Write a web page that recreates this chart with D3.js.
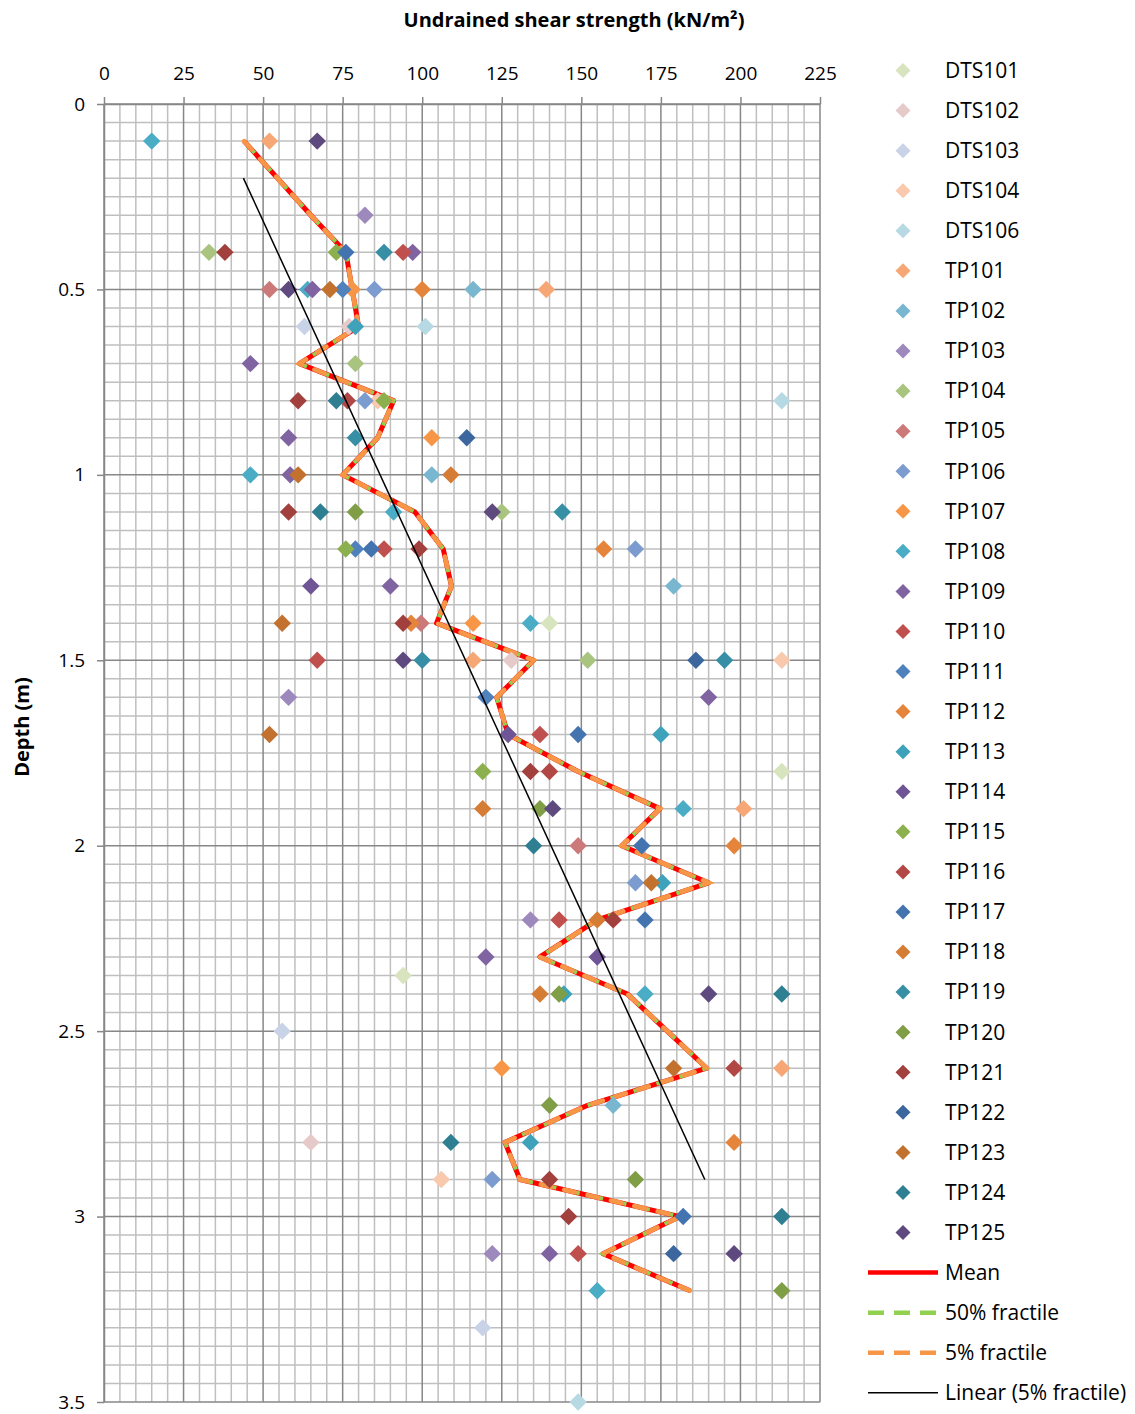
<!DOCTYPE html>
<html>
<head>
<meta charset="utf-8">
<script src="https://cdn.jsdelivr.net/npm/d3@7"></script>
<style>
body{margin:0;background:#fff;}
text{font-family:"Open Sans",Lato,sans-serif;fill:#000;}
</style>
</head>
<body>
<svg id="chart" width="1135" height="1414"></svg>
<script>
// series in legend order
var seriesNames = ["DTS101","DTS102","DTS103","DTS104","DTS106",
    "TP101","TP102","TP103","TP104","TP105","TP106","TP107","TP108","TP109","TP110",
    "TP111","TP112","TP113","TP114","TP115","TP116","TP117","TP118","TP119","TP120",
    "TP121","TP122","TP123","TP124","TP125"];

var seriesColors = ["#d7e4bd","#e6c9c9","#c9d3e8","#f9c9ad","#b7d9e3",
    "#f7a675","#78b7cf","#9d89bc","#a8c47f","#cc7a79","#7c9ccf","#f79646","#4bacc6","#8064a2","#c0504d",
    "#4f81bd","#e5843b","#3ea2bb","#6f5596","#8db04e","#b24845","#4474b0","#d57c35","#368fa5","#7f9e45",
    "#a2403e","#3b679e","#c2712f","#2f7f93","#5e4a7e"];

// test results: [series, depth (m), undrained shear strength (kN/m2)]
var obs = [
    ["DTS101",1.4,140],["DTS101",1.8,213],["DTS101",2.35,94],
    ["DTS102",0.6,77],["DTS102",1.5,128],["DTS102",2.8,65],
    ["DTS103",0.6,63],["DTS103",2.5,56],["DTS103",3.3,119],
    ["DTS104",0.8,86],["DTS104",1.5,213],["DTS104",2.9,106],
    ["DTS106",0.6,101],["DTS106",0.8,213],["DTS106",3.5,149],
    ["TP101",0.1,52],["TP101",0.5,139],["TP101",1.5,116],["TP101",1.9,201],["TP101",2.6,213],
    ["TP102",0.5,116],["TP102",1.0,103],["TP102",1.3,179],["TP102",2.7,160],
    ["TP103",0.3,82],["TP103",1.6,58],["TP103",2.2,134],["TP103",3.1,122],
    ["TP104",0.4,33],["TP104",0.7,79],["TP104",1.1,125],["TP104",1.5,152],
    ["TP105",0.5,52],["TP105",1.4,99.6],["TP105",2.0,149],
    ["TP106",0.5,85],["TP106",0.8,82],["TP106",1.2,167],["TP106",2.1,167],["TP106",2.9,122],
    ["TP107",0.5,78],["TP107",0.9,103],["TP107",1.4,116],["TP107",2.6,125],
    ["TP108",0.1,15],["TP108",0.5,64],["TP108",1.0,46],["TP108",1.1,91],["TP108",1.4,134],["TP108",1.9,182],["TP108",2.4,170],["TP108",3.2,155],
    ["TP109",0.4,97],["TP109",0.5,65.5],["TP109",0.7,46],["TP109",0.9,58],["TP109",1.0,58.5],["TP109",1.3,90],["TP109",1.6,190],["TP109",2.3,120],["TP109",3.1,140],
    ["TP110",0.4,94],["TP110",1.2,88],["TP110",1.5,67],["TP110",1.7,137],["TP110",2.2,143],["TP110",3.1,149],
    ["TP111",0.5,75],["TP111",1.2,79],["TP111",1.6,120],
    ["TP112",0.5,100],["TP112",1.2,157],["TP112",1.4,96.5],["TP112",2.0,198],["TP112",2.8,198],
    ["TP113",0.6,79],["TP113",1.7,175],["TP113",2.1,175.5],["TP113",2.4,144.5],["TP113",2.8,134],
    ["TP114",1.3,65],["TP114",1.7,127],["TP114",2.3,155],
    ["TP115",0.4,73],["TP115",0.8,88],["TP115",1.2,76],["TP115",1.8,119],
    ["TP116",0.8,76.5],["TP116",1.8,140],["TP116",2.6,198],
    ["TP117",0.4,76],["TP117",1.2,84],["TP117",1.7,149],["TP117",2.0,169],["TP117",2.2,170],["TP117",3.0,182],
    ["TP118",1.0,109],["TP118",1.9,119],["TP118",2.2,155],["TP118",2.4,137],
    ["TP119",0.4,88],["TP119",0.9,79],["TP119",1.1,144],["TP119",1.5,100],["TP119",1.5,195],
    ["TP120",1.1,79],["TP120",1.9,137],["TP120",2.4,143],["TP120",2.7,140],["TP120",2.9,167],["TP120",3.2,213],
    ["TP121",0.4,38],["TP121",0.8,61],["TP121",1.1,58],["TP121",1.2,99],["TP121",1.4,94],["TP121",1.8,134],["TP121",2.2,160],["TP121",2.9,140],["TP121",3.0,146],
    ["TP122",0.9,114],["TP122",1.5,186],["TP122",3.1,179],
    ["TP123",0.5,71],["TP123",1.0,61],["TP123",1.4,56],["TP123",1.7,52],["TP123",2.1,172],["TP123",2.6,179],
    ["TP124",0.8,73],["TP124",1.1,68],["TP124",2.0,135],["TP124",2.4,213],["TP124",2.8,109],["TP124",3.0,213],
    ["TP125",0.1,67],["TP125",0.5,58],["TP125",1.1,122],["TP125",1.5,94],["TP125",1.9,141],["TP125",2.4,190],["TP125",3.1,198]
];

// mean profile, the 50% and 5% fractile sit on top of it
var meanDepth = [0.1,0.2,0.3,0.4,0.5,0.6,0.7,0.8,0.9,1.0,1.1,1.2,1.3,1.4,1.5,1.6,
                 1.7,1.8,1.9,2.0,2.1,2.2,2.3,2.4,2.5,2.6,2.7,2.8,2.9,3.0,3.1,3.2];
var meanValue = [44,54.5,65,76,78,80,61.4,91,86,75,97.7,106.6,109.2,104.5,135,123.4,
                 127,149,174.7,162.7,190,155,137,164.5,177,189.4,152,126,130.7,181,156.8,184.2];
var frac50Value = meanValue.slice();
var frac5Value = meanValue.slice();

// linear trendline of the 5% fractile
var trendDepth = [0.2,2.9];
var trendValue = [43.8,188.8];

var xTicks = [0,25,50,75,100,125,150,175,200,225];
var yTicks = [0,0.5,1,1.5,2,2.5,3,3.5];

var plot = {left:104,top:104,right:820,bottom:1402};

var svg = d3.select("#chart");

var xScale = d3.scaleLinear().domain([0,225]).range([plot.left,plot.right]);
var yScale = d3.scaleLinear().domain([0,3.5]).range([plot.top,plot.bottom]);

var colorOf = d3.scaleOrdinal().domain(seriesNames).range(seriesColors);

var diamond = function(cx,cy,r)
{
    return "M"+cx+","+(cy-r)+"L"+(cx+r)+","+cy+"L"+cx+","+(cy+r)+"L"+(cx-r)+","+cy+"Z";
}

var drawGrid = function()
{
    var grid = svg.append("g").attr("class","grid");
    var minorX = d3.range(0,46).map(function(i){return i*5;});
    var minorY = d3.range(0,71).map(function(i){return +(i*0.05).toFixed(2);});

    grid.selectAll(".minx").data(minorX.filter(function(d){return d%25!=0;}))
        .enter().append("line")
        .attr("x1",function(d){return xScale(d);}).attr("x2",function(d){return xScale(d);})
        .attr("y1",plot.top).attr("y2",plot.bottom)
        .attr("stroke","#bfbfbf").attr("stroke-width",1.5);
    grid.selectAll(".miny").data(minorY.filter(function(d){return Math.round(d*100)%50!=0;}))
        .enter().append("line")
        .attr("y1",function(d){return yScale(d);}).attr("y2",function(d){return yScale(d);})
        .attr("x1",plot.left).attr("x2",plot.right)
        .attr("stroke","#bfbfbf").attr("stroke-width",1.5);

    grid.selectAll(".majx").data(xTicks)
        .enter().append("line")
        .attr("x1",function(d){return xScale(d);}).attr("x2",function(d){return xScale(d);})
        .attr("y1",plot.top).attr("y2",plot.bottom)
        .attr("stroke","#878787").attr("stroke-width",1.5);
    grid.selectAll(".majy").data(yTicks)
        .enter().append("line")
        .attr("y1",function(d){return yScale(d);}).attr("y2",function(d){return yScale(d);})
        .attr("x1",plot.left).attr("x2",plot.right)
        .attr("stroke","#878787").attr("stroke-width",1.5);
}

var drawAxes = function()
{
    var xAxis = d3.axisTop(xScale).tickValues(xTicks).tickSizeInner(7).tickSizeOuter(0).tickPadding(17);
    var yAxis = d3.axisLeft(yScale).tickValues(yTicks).tickSizeInner(7).tickSizeOuter(0).tickPadding(12)
        .tickFormat(function(d){return String(d);});

    var gx = svg.append("g").attr("transform","translate(0,"+plot.top+")").call(xAxis);
    var gy = svg.append("g").attr("transform","translate("+plot.left+",0)").call(yAxis);

    [gx,gy].forEach(function(g){
        g.select(".domain").attr("stroke","#878787").attr("stroke-width",1.5);
        g.selectAll(".tick line").attr("stroke","#878787").attr("stroke-width",1.5);
        g.selectAll(".tick text").attr("font-size",19).attr("font-family","'Open Sans',sans-serif").attr("fill","#000");
    });
    gx.selectAll(".tick text").attr("dy","0");
}

var drawLines = function()
{
    var pts = meanDepth.map(function(d,i){return {depth:d,mean:meanValue[i],f50:frac50Value[i],f5:frac5Value[i]};});
    var line = function(key){
        return d3.line().x(function(p){return xScale(p[key]);}).y(function(p){return yScale(p.depth);});
    }
    svg.append("path").datum(pts).attr("d",line("mean"))
        .attr("fill","none").attr("stroke","#ff0000").attr("stroke-width",5).attr("stroke-linejoin","round");
    svg.append("path").datum(pts).attr("d",line("f50"))
        .attr("fill","none").attr("stroke","#92d050").attr("stroke-width",4)
        .attr("stroke-dasharray","16,8");
    svg.append("path").datum(pts).attr("d",line("f5"))
        .attr("fill","none").attr("stroke","#f79646").attr("stroke-width",4.5)
        .attr("stroke-dasharray","11,13").attr("stroke-linecap","round");
}

var drawPoints = function()
{
    var ordered = [];
    seriesNames.forEach(function(s){
        obs.forEach(function(o){ if(o[0]==s) ordered.push(o); });
    });
    svg.append("g").selectAll("path").data(ordered)
        .enter().append("path")
        .attr("d",function(o){return diamond(xScale(o[2]),yScale(o[1]),8.7);})
        .attr("fill",function(o){return colorOf(o[0]);});
}

var drawTrend = function()
{
    var pts = trendDepth.map(function(d,i){return [trendValue[i],d];});
    svg.append("path").datum(pts)
        .attr("d",d3.line().x(function(p){return xScale(p[0]);}).y(function(p){return yScale(p[1]);}))
        .attr("fill","none").attr("stroke","#000").attr("stroke-width",1.5);
}

var drawLegend = function()
{
    var leg = svg.append("g").attr("class","legend");
    var rowY = function(i){return 70.5+i*40.07;};

    var rows = leg.selectAll(".srow").data(seriesNames).enter().append("g")
        .attr("transform",function(d,i){return "translate(0,"+rowY(i)+")";});
    rows.append("path").attr("d",diamond(903,0,7.5)).attr("fill",function(d){return colorOf(d);});
    rows.append("text").attr("x",945).attr("y",0).attr("dy","0.35em")
        .attr("font-size",21).text(function(d){return d;});

    var lineItems = [
        {name:"Mean",color:"#ff0000",w:4.5,dash:null},
        {name:"50% fractile",color:"#92d050",w:4.5,dash:"16,10"},
        {name:"5% fractile",color:"#f79646",w:4.5,dash:"16,10"},
        {name:"Linear (5% fractile)",color:"#000",w:1.5,dash:null}
    ];
    var lrows = leg.selectAll(".lrow").data(lineItems).enter().append("g")
        .attr("transform",function(d,i){return "translate(0,"+rowY(seriesNames.length+i)+")";});
    lrows.append("line").attr("x1",868).attr("x2",938).attr("y1",0).attr("y2",0)
        .attr("stroke",function(d){return d.color;})
        .attr("stroke-width",function(d){return d.w;})
        .attr("stroke-dasharray",function(d){return d.dash;});
    lrows.append("text").attr("x",945).attr("y",0).attr("dy","0.35em")
        .attr("font-size",21).text(function(d){return d.name;});
}

var drawLabels = function()
{
    svg.append("text").text("Undrained shear strength (kN/m²)")
        .attr("x",574).attr("y",27).attr("text-anchor","middle")
        .attr("font-size",20).attr("font-weight","bold");
    svg.append("g").attr("transform","translate(29,727)")
        .append("text").text("Depth (m)")
        .attr("transform","rotate(-90)").attr("text-anchor","middle")
        .attr("font-size",20).attr("font-weight","bold");
}

drawGrid();
drawAxes();
drawLines();
drawPoints();
drawTrend();
drawLegend();
drawLabels();
</script>
</body>
</html>
